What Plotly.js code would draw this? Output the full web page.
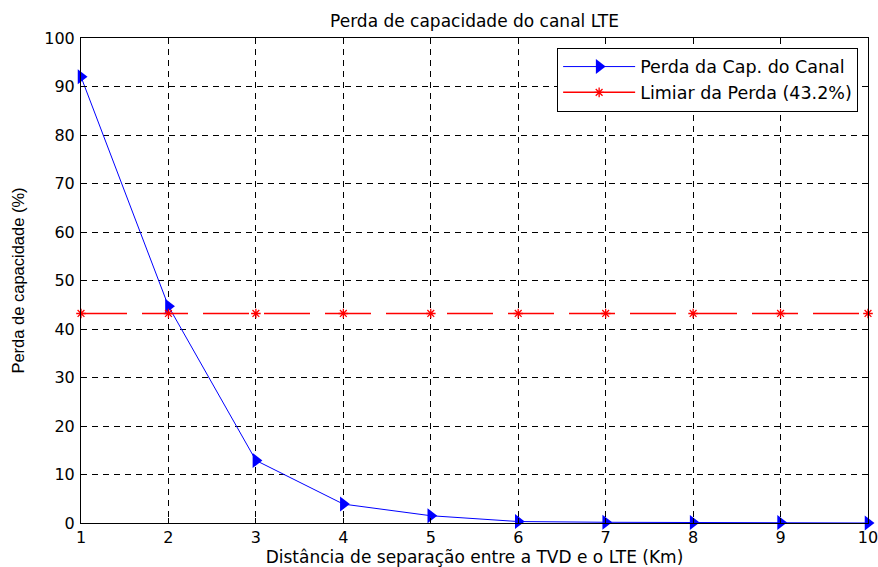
<!DOCTYPE html>
<html>
<head>
<meta charset="utf-8">
<script src="https://cdn.plot.ly/plotly-3.0.1.min.js"></script>
<style>
  html, body { margin: 0; padding: 0; background: #fff; }
  #chart { width: 878px; height: 567px; }
</style>
</head>
<body>
<div id="chart"></div>
<script>
// Distância de separação (Km) e perda de capacidade do canal LTE (%)
const distancias = [1, 2, 3, 4, 5, 6, 7, 8, 9, 10];
const perdaCapacidade = [92, 44.7, 12.9, 3.9, 1.5, 0.3, 0.15, 0.1, 0.1, 0];
const limiarPerda = [43.2, 43.2, 43.2, 43.2, 43.2, 43.2, 43.2, 43.2, 43.2, 43.2];

const xTicks = [1, 2, 3, 4, 5, 6, 7, 8, 9, 10];
const yTicks = [0, 10, 20, 30, 40, 50, 60, 70, 80, 90, 100];

const fonteTexto = 'DejaVu Sans, Liberation Sans, Arial, sans-serif';

const estiloLimiar = { color: '#ff0000', width: 1.5 };
const marcadorLimiar = { symbol: 'asterisk-open', size: 8, color: '#ff0000', line: { color: '#ff0000', width: 1.3 } };

const traces = [
  {
    x: distancias,
    y: perdaCapacidade,
    name: 'Perda da Cap. do Canal',
    type: 'scatter',
    mode: 'lines+markers',
    line: { color: '#0000ff', width: 1 },
    marker: { symbol: 'triangle-right', size: 13, color: '#0000ff' },
    cliponaxis: false
  },
  {
    // linha tracejada do limiar no gráfico
    x: distancias,
    y: limiarPerda,
    name: 'Limiar da Perda (43.2%)',
    legendgroup: 'limiar',
    showlegend: false,
    type: 'scatter',
    mode: 'lines+markers',
    line: Object.assign({ dash: '46px,15px' }, estiloLimiar),
    marker: marcadorLimiar,
    cliponaxis: false
  },
  {
    // entrada da legenda do limiar (traço contínuo)
    x: [null],
    y: [null],
    name: 'Limiar da Perda (43.2%)',
    legendgroup: 'limiar',
    type: 'scatter',
    mode: 'lines+markers',
    line: estiloLimiar,
    marker: marcadorLimiar
  }
];

const eixoComum = {
  showline: true,
  linecolor: '#000',
  linewidth: 1,
  mirror: 'ticks',
  ticks: 'inside',
  ticklen: 5,
  tickwidth: 1,
  tickcolor: '#000',
  showgrid: true,
  gridcolor: '#000',
  gridwidth: 1,
  griddash: '6px,5px',
  zeroline: false,
  ticklabeloverflow: 'allow',
  tickfont: { family: fonteTexto, size: 16, color: '#000' }
};

const layout = {
  width: 878,
  height: 567,
  paper_bgcolor: '#fff',
  plot_bgcolor: '#fff',
  margin: { l: 81, r: 10, t: 38, b: 44 },
  showlegend: true,
  title: {
    text: 'Perda de capacidade do canal LTE',
    font: { family: fonteTexto, size: 17, color: '#000' },
    x: 0.5,
    xref: 'paper',
    y: 0.963,
    yref: 'container',
    yanchor: 'middle'
  },
  xaxis: Object.assign({}, eixoComum, {
    range: [1, 10],
    tickvals: xTicks,
    ticktext: xTicks.map(String),
    ticklabelstandoff: 0,
    title: {
      text: 'Distância de separação entre a TVD e o LTE (Km)',
      font: { family: fonteTexto, size: 17, color: '#000' },
      standoff: 7
    }
  }),
  yaxis: Object.assign({}, eixoComum, {
    range: [0, 100],
    tickvals: yTicks,
    ticktext: yTicks.map(String),
    ticklabelstandoff: 2,
    title: {
      text: '\u00a0\u00a0\u00a0Perda de capacidade (%)',
      font: { family: 'Liberation Sans, Arial, sans-serif', size: 16.5, color: '#000' },
      standoff: 15
    }
  }),
  legend: {
    x: 0.605,
    xanchor: 'left',
    y: 0.98,
    yanchor: 'top',
    bgcolor: '#fff',
    bordercolor: '#000',
    borderwidth: 1,
    itemwidth: 72,
    tracegroupgap: 0,
    font: { family: fonteTexto, size: 17.5, color: '#000' }
  }
};

Plotly.newPlot('chart', traces, layout, { displayModeBar: false, staticPlot: true });
</script>
</body>
</html>
